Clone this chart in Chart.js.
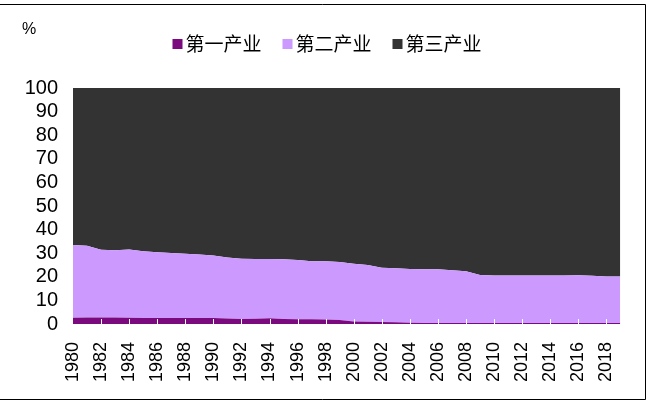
<!DOCTYPE html>
<html>
<head>
<meta charset="utf-8">
<script src="https://cdn.jsdelivr.net/npm/chart.js@4/dist/chart.umd.min.js"></script>
<style>
  html, body { margin: 0; padding: 0; background: #fff; }
  #wrap { width: 652px; height: 408px; position: relative; }
</style>
</head>
<body>
<div id="wrap"><canvas id="chart" width="652" height="408"></canvas></div>
<script>
const years = [
  "1980", "1981", "1982", "1983", "1984", "1985", "1986", "1987", "1988", "1989",
  "1990", "1991", "1992", "1993", "1994", "1995", "1996", "1997", "1998", "1999",
  "2000", "2001", "2002", "2003", "2004", "2005", "2006", "2007", "2008", "2009",
  "2010", "2011", "2012", "2013", "2014", "2015", "2016", "2017", "2018", "2019",
];

const seriesNames = ["第一产业", "第二产业", "第三产业"];
const seriesColors = ["#7a0a7e", "#cc99ff", "#333333"];

const primary = [
  2.7, 2.8, 2.8, 2.8, 2.7, 2.5, 2.5, 2.5, 2.5, 2.5,
  2.5, 2.3, 2.1, 2.2, 2.4, 2.1, 2.0, 2.0, 1.9, 1.7,
  1.1, 1.0, 0.9, 0.7, 0.5, 0.4, 0.4, 0.4, 0.4, 0.4,
  0.4, 0.4, 0.4, 0.4, 0.4, 0.4, 0.4, 0.4, 0.4, 0.4,
];

const secondary = [
  30.8, 30.4, 28.7, 28.4, 28.9, 28.3, 27.9, 27.6, 27.3, 26.9,
  26.5, 25.9, 25.5, 25.3, 25.1, 25.3, 25.1, 24.6, 24.7, 24.6,
  24.4, 24.0, 22.9, 22.9, 22.8, 22.8, 22.8, 22.4, 22.0, 20.4,
  20.2, 20.2, 20.2, 20.2, 20.2, 20.2, 20.3, 20.0, 19.7, 19.7,
];

const tertiary = [
  66.5, 66.8, 68.5, 68.8, 68.4, 69.2, 69.6, 69.9, 70.2, 70.6,
  71.0, 71.8, 72.4, 72.5, 72.5, 72.6, 72.9, 73.4, 73.4, 73.7,
  74.5, 75.0, 76.2, 76.4, 76.7, 76.8, 76.8, 77.2, 77.6, 79.2,
  79.4, 79.4, 79.4, 79.4, 79.4, 79.4, 79.3, 79.6, 79.9, 79.9,
];

const yTicks = [0, 10, 20, 30, 40, 50, 60, 70, 80, 90, 100];

const fontFamily = '"Liberation Sans", Arial, sans-serif';

// legend, "%" unit, frame lines and the little white ticks along the bottom
const extras = {
  id: "extras",
  afterDraw(chart) {
    const ctx = chart.ctx;
    const area = chart.chartArea;
    const x = chart.scales.x;
    ctx.save();

    ctx.strokeStyle = "#ffffff";
    ctx.lineWidth = 1;
    years.forEach((y, i) => {
      if (i === 0 || i % 2 !== 0) return;
      const px = Math.round(x.getPixelForValue(i)) + 0.5;
      ctx.beginPath();
      ctx.moveTo(px, area.bottom);
      ctx.lineTo(px, area.bottom - 5);
      ctx.stroke();
    });

    ctx.strokeStyle = "#000000";
    ctx.beginPath();
    ctx.moveTo(0, 4.5);
    ctx.lineTo(645.5, 4.5);
    ctx.lineTo(645.5, 399.5);
    ctx.lineTo(0, 399.5);
    ctx.stroke();

    ctx.fillStyle = "#000000";
    ctx.font = "16px " + fontFamily;
    ctx.textAlign = "left";
    ctx.textBaseline = "middle";
    ctx.fillText("%", 22, 30);

    ctx.font = '19px "Noto Sans CJK SC", sans-serif';
    const box = 10, gap = 3, spacing = 21;
    const widths = seriesNames.map((n) => box + gap + ctx.measureText(n).width);
    const total = widths.reduce((a, b) => a + b, 0) + spacing * (widths.length - 1);
    let lx = 327 - total / 2;
    const ly = 44;
    seriesNames.forEach((name, i) => {
      ctx.fillStyle = seriesColors[i];
      ctx.fillRect(lx, ly - box / 2, box, box);
      ctx.fillStyle = "#000000";
      ctx.fillText(name, lx + box + gap, ly);
      lx += widths[i] + spacing;
    });

    ctx.restore();
  },
};

function areaSet(label, data, color, fill) {
  return {
    label: label,
    data: data,
    backgroundColor: color,
    borderColor: color,
    borderWidth: 0,
    pointRadius: 0,
    pointHoverRadius: 0,
    tension: 0,
    fill: fill,
  };
}

new Chart(document.getElementById("chart"), {
  type: "line",
  data: {
    labels: years,
    datasets: [
      areaSet(seriesNames[0], primary, seriesColors[0], "origin"),
      areaSet(seriesNames[1], secondary, seriesColors[1], "-1"),
      areaSet(seriesNames[2], tertiary, seriesColors[2], "-1"),
    ],
  },
  options: {
    responsive: false,
    animation: false,
    layout: {
      padding: { top: 88, right: 24, left: 0, bottom: 0 },
    },
    scales: {
      x: {
        offset: false,
        grid: { display: false },
        border: { display: false },
        ticks: {
          autoSkip: false,
          maxRotation: 90,
          minRotation: 90,
          padding: 10,
          color: "#000000",
          font: { family: fontFamily, size: 18 },
          callback: (value, index) => (index % 2 === 0 ? years[index] : ""),
        },
        afterFit: (scale) => {
          scale.height = 84;
        },
      },
      y: {
        stacked: true,
        min: 0,
        max: 100,
        grid: { display: false },
        border: { display: false },
        afterBuildTicks: (scale) => {
          scale.ticks = yTicks.map((v) => ({ value: v }));
        },
        ticks: {
          autoSkip: false,
          padding: 7,
          color: "#000000",
          font: { family: fontFamily, size: 20 },
        },
        afterFit: (scale) => {
          scale.width = 73;
        },
      },
    },
    plugins: {
      legend: { display: false },
      tooltip: { enabled: false },
    },
  },
  plugins: [extras],
});
</script>
</body>
</html>
